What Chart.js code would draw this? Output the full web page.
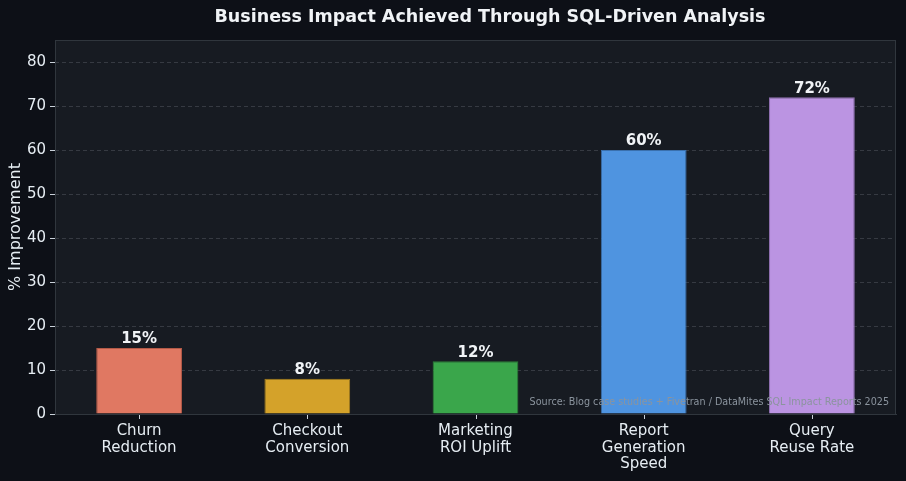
<!DOCTYPE html>
<html>
<head>
<meta charset="utf-8">
<script src="https://cdn.jsdelivr.net/npm/chart.js@4.4.1/dist/chart.umd.min.js"></script>
<style>
  html, body { margin: 0; padding: 0; background: #0d1017; }
  #wrap { width: 906px; height: 481px; }
</style>
</head>
<body>
<div id="wrap"><canvas id="impactChart" width="906" height="481"></canvas></div>
<script>
// Datos del gráfico
const categorias = [
    ['Churn', 'Reduction'],
    ['Checkout', 'Conversion'],
    ['Marketing', 'ROI Uplift'],
    ['Report', 'Generation', 'Speed'],
    ['Query', 'Reuse Rate']
];
const mejoras = [15, 8, 12, 60, 72];
const coloresBarras = ['#e07862', '#d4a22a', '#3aa64b', '#4f94e0', '#bb94e2'];
const bordesBarras = ['#b35a48', '#a67d1c', '#2b7f38', '#3a70ad', '#8f6fb0'];

const titulo = 'Business Impact Achieved Through SQL-Driven Analysis';
const fuente = 'Source: Blog case studies + Fivetran / DataMites SQL Impact Reports 2025';

// Fondo y marco del área del gráfico
const fondoPlugin = {
    id: 'fondo',
    beforeDraw(chart) {
        const { ctx, chartArea: a } = chart;
        ctx.save();
        ctx.fillStyle = '#171b22';
        ctx.fillRect(a.left, a.top, a.right - a.left, a.bottom - a.top);
        ctx.restore();
    },
    afterDraw(chart) {
        const { ctx, chartArea: a } = chart;
        ctx.save();
        ctx.strokeStyle = '#30363d';
        ctx.lineWidth = 1;
        ctx.strokeRect(a.left + 0.5, a.top + 0.5, a.right - a.left - 1, a.bottom - a.top);
        // marcas del eje x en el centro de cada categoría
        const xScale = chart.scales.x;
        ctx.strokeStyle = '#c9d1d9';
        ctx.beginPath();
        categorias.forEach((c, i) => {
            const x = Math.round(xScale.getPixelForValue(i)) + 0.5;
            ctx.moveTo(x, a.bottom + 1);
            ctx.lineTo(x, a.bottom + 5);
        });
        ctx.stroke();
        // título
        ctx.fillStyle = '#f0f3f6';
        ctx.font = 'bold 17.5px "DejaVu Sans"';
        ctx.textAlign = 'center';
        ctx.textBaseline = 'middle';
        ctx.fillText(titulo, 490, 17);
        // fuente
        ctx.fillStyle = '#8b949e';
        ctx.font = '9.6px "DejaVu Sans"';
        ctx.textAlign = 'right';
        ctx.fillText(fuente, a.right - 7, a.bottom - 12);
        ctx.restore();
    }
};

// Etiquetas de valor sobre las barras
const etiquetasPlugin = {
    id: 'etiquetas',
    afterDatasetsDraw(chart) {
        const { ctx } = chart;
        const meta = chart.getDatasetMeta(0);
        ctx.save();
        ctx.fillStyle = '#f0f3f6';
        ctx.font = 'bold 15px "DejaVu Sans"';
        ctx.textAlign = 'center';
        ctx.textBaseline = 'bottom';
        meta.data.forEach((bar, i) => {
            ctx.fillText(mejoras[i] + '%', bar.x, bar.y - 1);
        });
        ctx.restore();
    }
};

const impactChart = new Chart(document.getElementById('impactChart'), {
    type: 'bar',
    data: {
        labels: categorias,
        datasets: [{
            label: '% Improvement',
            data: mejoras,
            backgroundColor: coloresBarras,
            borderColor: bordesBarras,
            borderWidth: 1,
            barPercentage: 0.51,
            categoryPercentage: 1
        }]
    },
    options: {
        responsive: false,
        animation: false,
        layout: { padding: { top: 40, right: 10, left: 0, bottom: 0 } },
        plugins: {
            legend: { display: false },
            tooltip: { enabled: false }
        },
        scales: {
            x: {
                grid: { display: false },
                border: { color: '#30363d' },
                ticks: {
                    color: '#e6edf3',
                    font: { family: 'DejaVu Sans', size: 15, lineHeight: 1.1 },
                    padding: 1,
                    maxRotation: 0
                },
                afterFit(scale) { scale.height = 67; }
            },
            y: {
                min: 0,
                max: 85,
                z: 1,
                grid: {
                    color: 'rgba(120, 125, 135, 0.32)',
                    tickColor: '#c9d1d9',
                    tickLength: 5,
                    drawOnChartArea: true
                },
                border: { display: false, dash: [4, 3] },
                ticks: {
                    stepSize: 10,
                    includeBounds: false,
                    color: '#e6edf3',
                    font: { family: 'DejaVu Sans', size: 15 },
                    padding: 4
                },
                title: {
                    display: true,
                    text: '% Improvement',
                    color: '#e6edf3',
                    font: { family: 'DejaVu Sans', size: 16 },
                    padding: { top: 6, bottom: 0 }
                },
                afterFit(scale) { scale.width = 55; }
            }
        }
    },
    plugins: [fondoPlugin, etiquetasPlugin]
});
</script>
</body>
</html>
